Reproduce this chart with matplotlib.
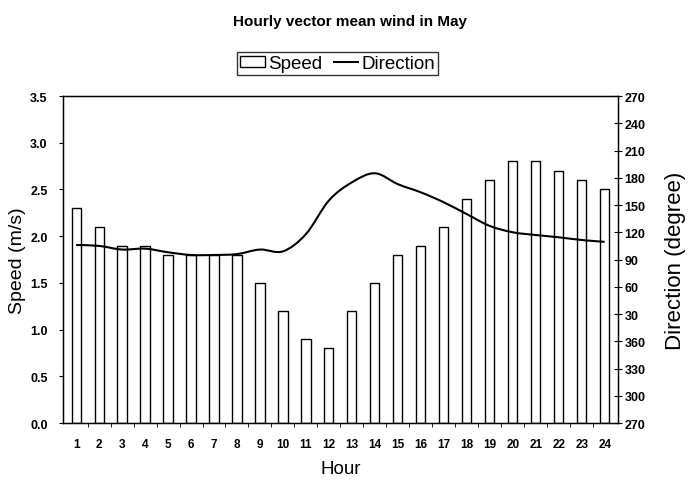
import matplotlib
matplotlib.use('Agg')
import matplotlib.pyplot as plt
from matplotlib.path import Path
from matplotlib.patches import PathPatch, Rectangle
from matplotlib.lines import Line2D

plt.rcParams['font.family'] = ['Liberation Sans', 'DejaVu Sans']

# hourly data
hours = list(range(1, 25))
speed = [2.3, 2.1, 1.9, 1.9, 1.8, 1.8, 1.8, 1.8, 1.5, 1.2, 0.9, 0.8,
         1.2, 1.5, 1.8, 1.9, 2.1, 2.4, 2.6, 2.8, 2.8, 2.7, 2.6, 2.5]
direction = [106, 105, 101, 102, 98, 95, 95, 96, 101, 99, 118, 155,
             175, 185, 173, 164, 153, 140, 127, 120, 117, 114.5, 111.5, 109.5]
dir_ticks = list(range(270, 631, 30))
dir_labels = [str(t % 360 if t % 360 else 360) for t in dir_ticks]


def smooth_path(xs, ys, k=1 / 6):
    # Catmull-Rom style bezier through the points (like Excel smoothed lines)
    verts = [(xs[0], ys[0])]
    codes = [Path.MOVETO]
    n = len(xs)
    for i in range(n - 1):
        x0, y0 = xs[max(i - 1, 0)], ys[max(i - 1, 0)]
        x1, y1 = xs[i], ys[i]
        x2, y2 = xs[i + 1], ys[i + 1]
        x3, y3 = xs[min(i + 2, n - 1)], ys[min(i + 2, n - 1)]
        verts += [(x1 + (x2 - x0) * k, y1 + (y2 - y0) * k),
                  (x2 - (x3 - x1) * k, y2 - (y3 - y1) * k),
                  (x2, y2)]
        codes += [Path.CURVE4] * 3
    return Path(verts, codes)


fig = plt.figure(figsize=(6.91, 4.81), dpi=100)
ax = fig.add_axes([0.0912, 0.1185, 0.8028, 0.6797])

ax.bar(hours, speed, width=0.4, facecolor='white', edgecolor='black',
       linewidth=1.0, zorder=2)
ax.set_xlim(0.43, 24.57)
ax.set_ylim(0, 3.5)
ax.set_yticks([0, 0.5, 1.0, 1.5, 2.0, 2.5, 3.0, 3.5])
ax.set_yticklabels(['0.0', '0.5', '1.0', '1.5', '2.0', '2.5', '3.0', '3.5'])
ax.set_xticks(hours)
ax.set_xticks([h + 0.5 for h in hours[:-1]], minor=True)
ax.tick_params(axis='x', which='major', length=0, pad=11, labelsize=8.5)
ax.tick_params(axis='x', which='minor', length=3, direction='out')
ax.tick_params(axis='y', length=3, direction='out', labelsize=9, pad=8)
for lab in ax.get_xticklabels() + ax.get_yticklabels():
    lab.set_fontweight('bold')
for s in ax.spines.values():
    s.set_linewidth(1.0)
ax.set_xlabel('Hour', fontsize=13.5, labelpad=7)
ax.set_ylabel('Speed (m/s)', fontsize=14, labelpad=3)

ax2 = ax.twinx()
ax2.set_ylim(270, 630)
ax2.set_yticks(dir_ticks)
ax2.set_yticklabels(dir_labels)
ax2.tick_params(axis='y', length=6, direction='inout', labelsize=9, pad=2)
for lab in ax2.get_yticklabels():
    lab.set_fontweight('bold')
shifted = [d + 360 if d < 270 else d for d in direction]
ax2.add_patch(PathPatch(smooth_path(hours, shifted), facecolor='none',
                        edgecolor='black', linewidth=1.5, zorder=3))
ax2.set_ylabel('Direction (degree)', fontsize=16, labelpad=14)

fig.text(0.507, 0.955, 'Hourly vector mean wind in May', ha='center',
         va='center', fontsize=11, fontweight='bold')

handles = [Rectangle((0, 0), 1, 1, facecolor='white', edgecolor='black', linewidth=1),
           Line2D([], [], color='black', linewidth=1.5)]
leg = fig.legend(handles, ['Speed', 'Direction'], loc='center',
                 bbox_to_anchor=(0.489, 0.866), ncol=2, fontsize=13.5,
                 frameon=True, fancybox=False, handlelength=1.3,
                 handleheight=0.5, handletextpad=0.2, columnspacing=0.6,
                 borderpad=0.15, borderaxespad=0)
leg.get_frame().set_edgecolor('black')
leg.get_frame().set_linewidth(1.0)

fig.savefig('out.png', dpi=100)
